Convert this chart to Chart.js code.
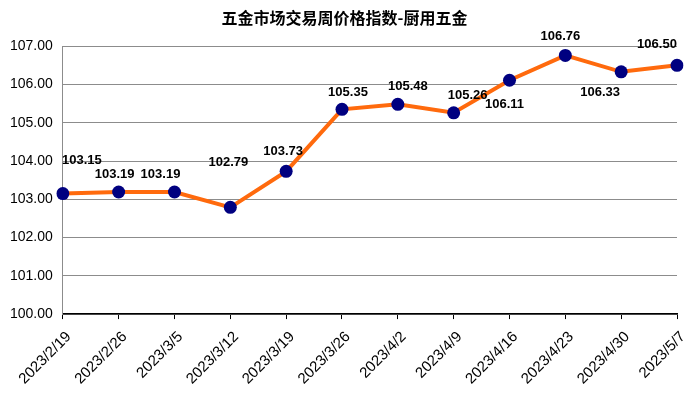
<!DOCTYPE html>
<html>
<head>
<meta charset="utf-8">
<script src="https://cdn.jsdelivr.net/npm/chart.js@4.4.0/dist/chart.umd.min.js"></script>
<style>
    html, body { margin: 0; padding: 0; background: #fff; }
    .chart__wrap { width: 689px; height: 394px; position: relative; }
</style>
</head>
<body>
<div class="chart__wrap">
    <canvas id="priceChart"></canvas>
</div>
<script>
const labels = ['2023/2/19', '2023/2/26', '2023/3/5', '2023/3/12', '2023/3/19', '2023/3/26', '2023/4/2', '2023/4/9', '2023/4/16', '2023/4/23', '2023/4/30', '2023/5/7'];
const values = [103.15, 103.19, 103.19, 102.79, 103.73, 105.35, 105.48, 105.26, 106.11, 106.76, 106.33, 106.50];
const yTicks = [100, 101, 102, 103, 104, 105, 106, 107];

// label offsets (dx, dy) from each point
const labelShift = [
    [19, -33], [-4, -18], [-14, -18], [-2, -45], [-3, -20], [6, -17],
    [10, -18], [14, -17], [-5, 24], [-5, -19], [-21, 21], [-20, -21]
];

const valueLabels = {
    id: 'valueLabels',
    afterDatasetsDraw(chart) {
        const { ctx } = chart;
        const meta = chart.getDatasetMeta(0);
        ctx.save();
        ctx.font = 'bold 13px "Liberation Sans", Arial, sans-serif';
        ctx.fillStyle = '#000';
        ctx.textAlign = 'center';
        ctx.textBaseline = 'middle';
        meta.data.forEach((pt, i) => {
            ctx.fillText(values[i].toFixed(2), pt.x + labelShift[i][0], pt.y + labelShift[i][1]);
        });
        ctx.restore();
    }
};

const ctx = document.getElementById('priceChart');
new Chart(ctx, {
    type: 'line',
    data: {
        labels: labels,
        datasets: [{
            label: '厨用五金',
            data: values,
            borderColor: '#FF6A0D',
            borderWidth: 4,
            tension: 0,
            pointRadius: 6.5,
            pointHoverRadius: 6.5,
            pointBackgroundColor: '#000080',
            pointBorderColor: '#000080',
            pointBorderWidth: 0,
        }]
    },
    options: {
        responsive: true,
        maintainAspectRatio: false,
        animation: false,
        layout: {
            padding: { left: 0, right: 0, top: 0, bottom: 0 }
        },
        scales: {
            x: {
                offset: false,
                afterFit: (axis) => {
                    axis.paddingRight = 12;
                    axis.height -= 3;
                },
                grid: {
                    drawOnChartArea: false,
                    drawTicks: true,
                    tickLength: 5,
                    color: '#000',
                },
                border: { color: '#000', width: 1.5 },
                ticks: {
                    minRotation: 45,
                    maxRotation: 45,
                    color: '#000',
                    padding: 9,
                    labelOffset: 6,
                    font: { size: 15, family: '"Liberation Sans", Arial, sans-serif' }
                }
            },
            y: {
                min: 100,
                max: 107,
                afterBuildTicks: (axis) => {
                    axis.ticks = yTicks.map(v => ({ value: v }));
                },
                grid: {
                    color: '#8c8c8c',
                    drawTicks: false,
                },
                border: { color: '#8c8c8c' },
                ticks: {
                    padding: 10,
                    color: '#000',
                    callback: (v) => Number(v).toFixed(2),
                    font: { size: 14, family: '"Liberation Sans", Arial, sans-serif' }
                }
            }
        },
        plugins: {
            legend: { display: false },
            tooltip: { enabled: false },
            title: {
                display: true,
                text: '五金市场交易周价格指数-厨用五金',
                color: '#000',
                padding: { top: 8, bottom: 19 },
                font: { size: 16, weight: 'bold', family: '"Noto Sans CJK SC", sans-serif' }
            }
        }
    },
    plugins: [valueLabels]
});
</script>
</body>
</html>
